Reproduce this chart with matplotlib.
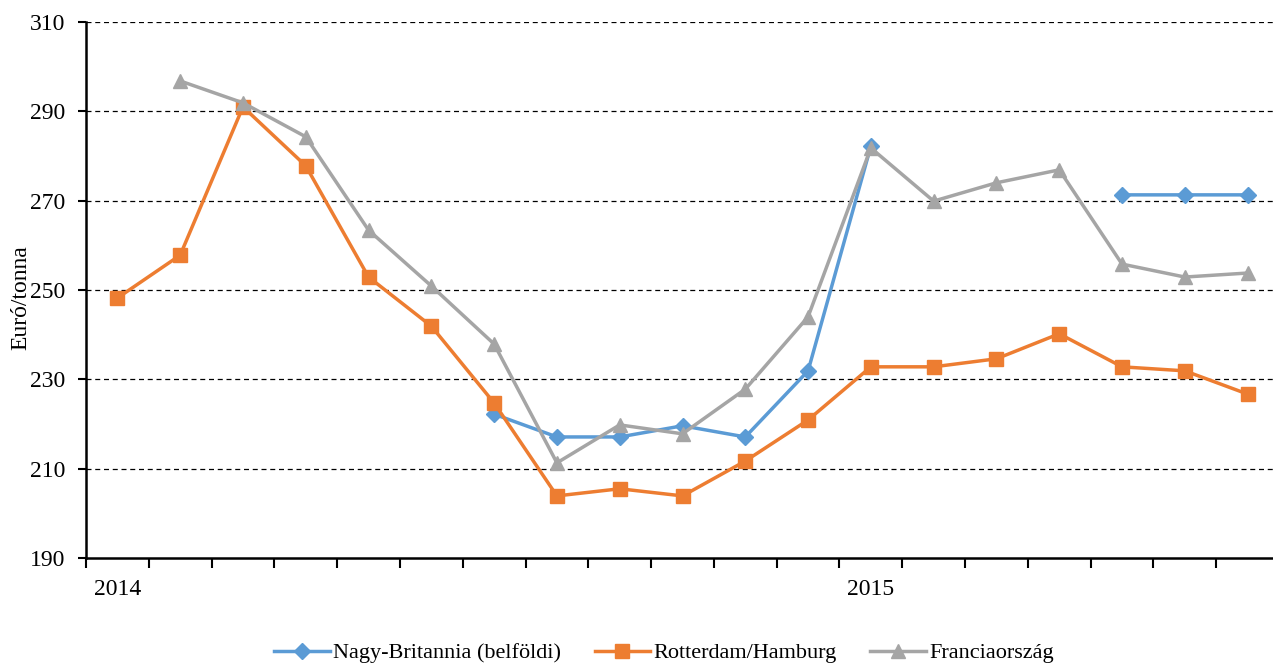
import numpy as np
import matplotlib
matplotlib.use("Agg")
import matplotlib.pyplot as plt

plt.rcParams['font.family'] = ['Liberation Serif', 'DejaVu Serif']

categories = list(range(19))
xlabels = {0: "2014", 12: "2015"}

nagy_britannia = [np.nan, np.nan, np.nan, np.nan, np.nan, np.nan, 222.2, 217.1, 217.1, 219.6,
                  217.1, 231.9, 282.2, np.nan, np.nan, np.nan, 271.3, 271.3, 271.3]
rotterdam = [248.2, 257.8, 291.0, 277.8, 252.9, 241.9, 224.7, 203.9, 205.5, 203.9,
             211.7, 220.9, 232.8, 232.8, 234.6, 240.2, 232.8, 231.9, 226.7]
franciaorszag = [np.nan, 296.8, 291.9, 284.3, 263.4, 250.9, 237.9, 211.3, 219.8, 217.8,
                 227.8, 244.0, 281.8, 269.9, 274.0, 276.9, 255.8, 252.9, 253.8]

series_names = ["Nagy-Britannia (belföldi)", "Rotterdam/Hamburg", "Franciaország"]
colors = ["#5B9BD5", "#ED7D31", "#A5A5A5"]

fig = plt.figure(figsize=(12.73, 6.64), dpi=100)
ax = fig.add_axes([86/1273, 1-558/664, (1279-86)/1273, (558-22)/664])

ax.plot(categories, nagy_britannia, color=colors[0], lw=2.5, marker='D', ms=8,
        label=series_names[0], zorder=3)
ax.plot(categories, rotterdam, color=colors[1], lw=2.5, marker='s', ms=10,
        label=series_names[1], zorder=4)
ax.plot(categories, franciaorszag, color=colors[2], lw=2.5, marker='^', ms=10.5,
        label=series_names[2], zorder=5)

ax.set_xlim(-0.5, 18.5)
ax.set_ylim(190, 310)
ax.set_yticks(np.arange(190, 311, 20))
ax.tick_params(axis='y', labelsize=17, length=6, width=1.5, direction='out', pad=9)
ax.set_xticks(np.arange(-0.5, 18.6, 1))
ax.set_xticklabels([])
ax.tick_params(axis='x', which='major', length=7, width=1.5, direction='out')
ax.set_xticks(list(xlabels.keys()), minor=True)
ax.set_xticklabels(list(xlabels.values()), minor=True)
ax.tick_params(axis='x', which='minor', length=0, labelsize=17, pad=15)

for s in ['top', 'right']:
    ax.spines[s].set_visible(False)
ax.spines['left'].set_linewidth(1.8)
ax.spines['bottom'].set_linewidth(1.8)

for y in range(210, 311, 20):
    ax.axhline(y, color='black', lw=0.9, ls=(0, (4, 3)), zorder=1)

fig.text(21/1273, 1-298/664, "Euró/tonna", rotation=90, ha='center', va='center', fontsize=17)

fig.legend(loc='center', bbox_to_anchor=(664/1273, 1-653/664), ncol=3, frameon=False,
           fontsize=16, handlelength=2.5, columnspacing=1.5, handletextpad=0.15)

fig.savefig("out.png", dpi=100)
